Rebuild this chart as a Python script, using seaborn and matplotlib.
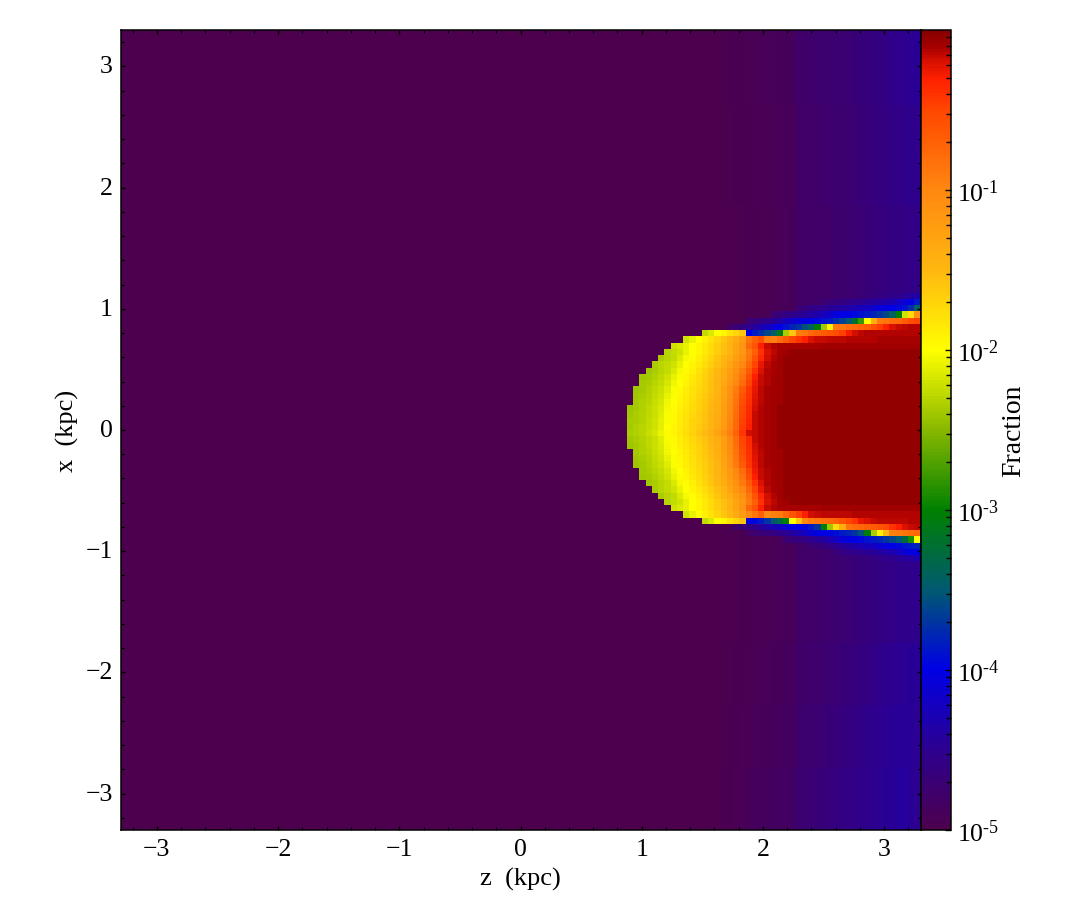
"""
Fraction map in the z-x plane, drawn with seaborn's heatmap.
All row lists hold log10(fraction) read off the picture.
"""

import numpy as np
import matplotlib
matplotlib.use("Agg")
import matplotlib.pyplot as plt
from matplotlib.colors import LinearSegmentedColormap, LogNorm
from matplotlib.ticker import FixedLocator, FuncFormatter, NullFormatter
import seaborn as sns

# ==========================================================
# Data
# ==========================================================

N_CELLS = 128
EXTENT = 3.3
FLOOR = -5.0
CORE = -0.05

MAJOR_TICKS = [-3, -2, -1, 0, 1, 2, 3]
MINOR_TICKS = [round(-3.2 + 0.2 * i, 1) for i in range(33)]
CBAR_TICKS = [1e-5, 1e-4, 1e-3, 1e-2, 1e-1]

CMAP_POS = [0.0, 0.1, 0.2, 0.3, 0.4, 0.5, 0.6, 0.7, 0.8, 0.9, 0.94, 0.9625, 0.98, 1.0]
CMAP_COLORS = ["#4d004d", "#2c0090", "#0000e6", "#005a70", "#008000", "#88b800",
               "#ffff00", "#ffb810", "#ff8810", "#ff4800", "#ff2000", "#d81000",
               "#a80000", "#860000"]

# background, columns 96 to 127
BG_START = 96
bg_top_far = [-4.97, -4.96, -4.95, -4.95, -4.94, -4.93, -4.92, -4.92, -4.91, -4.90, -4.90, -4.88,
              -4.78, -4.77, -4.76, -4.75, -4.74, -4.73, -4.72, -4.71, -4.70, -4.68, -4.66, -4.64,
              -4.62, -4.60, -4.58, -4.55, -4.52, -4.50, -4.48, -4.47]
bg_top_mid = [-4.98, -4.97, -4.96, -4.96, -4.95, -4.94, -4.93, -4.93, -4.92, -4.91, -4.90, -4.89,
              -4.80, -4.79, -4.78, -4.77, -4.76, -4.75, -4.74, -4.73, -4.72, -4.70, -4.68, -4.66,
              -4.64, -4.62, -4.60, -4.58, -4.56, -4.55, -4.54, -4.53]
bg_top_near = [-4.98, -4.98, -4.97, -4.97, -4.96, -4.95, -4.94, -4.94, -4.93, -4.92, -4.91, -4.90,
               -4.82, -4.81, -4.80, -4.79, -4.78, -4.77, -4.76, -4.75, -4.74, -4.72, -4.70, -4.68,
               -4.66, -4.64, -4.62, -4.60, -4.59, -4.58, -4.57, -4.56]
bg_bot_near = [-4.98, -4.97, -4.97, -4.96, -4.95, -4.94, -4.93, -4.93, -4.92, -4.91, -4.90, -4.89,
               -4.80, -4.79, -4.78, -4.77, -4.76, -4.75, -4.74, -4.72, -4.70, -4.68, -4.66, -4.64,
               -4.62, -4.60, -4.58, -4.56, -4.55, -4.54, -4.53, -4.52]
bg_bot_mid = [-4.98, -4.97, -4.96, -4.95, -4.94, -4.93, -4.92, -4.91, -4.90, -4.89, -4.88, -4.87,
              -4.78, -4.77, -4.76, -4.75, -4.73, -4.71, -4.69, -4.67, -4.65, -4.63, -4.61, -4.59,
              -4.57, -4.55, -4.53, -4.51, -4.49, -4.48, -4.47, -4.47]
bg_bot_low = [-4.97, -4.96, -4.95, -4.94, -4.93, -4.92, -4.90, -4.89, -4.88, -4.87, -4.86, -4.85,
              -4.75, -4.74, -4.73, -4.71, -4.69, -4.67, -4.65, -4.63, -4.61, -4.59, -4.57, -4.55,
              -4.53, -4.51, -4.49, -4.47, -4.45, -4.44, -4.46, -4.48]
bg_bot_far = [-4.96, -4.95, -4.94, -4.92, -4.90, -4.88, -4.87, -4.86, -4.85, -4.84, -4.83, -4.82,
              -4.73, -4.72, -4.70, -4.68, -4.66, -4.64, -4.62, -4.60, -4.58, -4.56, -4.54, -4.52,
              -4.50, -4.48, -4.46, -4.44, -4.43, -4.42, -4.46, -4.50]

# sheath above the cap
start_42 = 118
row_42 = [-4.68, -4.65, -4.62, -4.60, -4.58, -4.55, -4.52, -4.48, -4.42, -4.35]
start_43 = 112
row_43 = [-4.70, -4.65, -4.62, -4.60, -4.55, -4.52, -4.50, -4.45, -4.40, -4.38, -4.35, -4.28,
          -4.20, -4.10, -4.02, -3.85]
start_44 = 108
row_44 = [-4.70, -4.65, -4.60, -4.55, -4.50, -4.47, -4.43, -4.40, -4.35, -4.30, -4.25, -4.20,
          -4.15, -4.05, -4.03, -4.00, -3.95, -3.90, -3.75, -3.45]
start_45 = 104
row_45 = [-4.70, -4.65, -4.60, -4.55, -4.50, -4.45, -4.40, -4.32, -4.25, -4.15, -4.05, -4.02,
          -4.00, -3.95, -3.90, -3.85, -3.80, -3.70, -3.60, -3.40, -3.00, -2.20, -1.75, -1.10]
start_46 = 100
row_46 = [-4.70, -4.65, -4.60, -4.55, -4.45, -4.35, -4.25, -4.15, -4.08, -4.03, -4.00, -3.95,
          -3.90, -3.85, -3.75, -3.65, -3.50, -3.20, -2.80, -2.00, -1.40, -0.90, -0.85, -0.80,
          -0.75, -0.65, -0.55, -0.50]
start_47 = 97
row_47 = [-4.80, -4.70, -4.60, -4.50, -4.40, -4.30, -4.20, -4.10, -4.00, -3.90, -3.80, -3.70,
          -3.55, -3.40, -3.00, -2.40, -1.90, -0.90, -0.85, -0.80, -0.75, -0.70, -0.65, -0.55,
          -0.45, -0.30, -0.20, -0.16, -0.14, -0.13, -0.13]

# cap rows, first filled column then values going right
start_48 = 93
row_48 = [-2.25, -2.15, -2.00, -1.95, -1.80, -1.70, -1.60, -4.00, -3.85, -3.75, -3.60, -3.45,
          -3.10, -2.35, -1.60, -0.90, -0.85, -0.75, -0.70, -0.65, -0.60, -0.55, -0.45, -0.28,
          -0.18, -0.14, -0.13, -0.13, -0.13, -0.13, -0.12, -0.12, -0.12, -0.12, -0.12]
start_49 = 90
row_49 = [-2.20, -2.10, -2.00, -1.90, -1.80, -1.70, -1.60, -1.50, -1.35, -1.20, -0.85, -0.70,
          -0.55, -0.90, -0.95, -0.80, -0.65, -0.50, -0.40, -0.30, -0.20, -0.17, -0.16, -0.15,
          -0.14, -0.14, -0.13, -0.13, -0.12, -0.12, -0.12, -0.11, -0.11, -0.11, -0.10, -0.10,
          -0.10, -0.10]
start_50 = 88
row_50 = [-2.20, -2.15, -2.10, -2.00, -1.95, -1.85, -1.75, -1.65, -1.55, -1.45, -1.30, -1.15,
          -0.75, -0.60, -0.30, -0.17, -0.13, -0.11, -0.10, -0.10, -0.10, -0.10, -0.10, -0.10,
          -0.09, -0.09, -0.09, -0.09, -0.09, -0.09, -0.09, -0.09, -0.08, -0.08, -0.08, -0.08,
          -0.08, -0.08, -0.08, -0.08]
start_51 = 87
row_51 = [-2.30, -2.25, -2.20, -2.10, -2.00, -1.95, -1.85, -1.75, -1.65, -1.55, -1.45, -1.30,
          -1.15, -0.90, -0.70, -0.40, -0.20, -0.14, -0.11, -0.08]
start_52 = 86
row_52 = [-2.35, -2.30, -2.25, -2.15, -2.05, -1.98, -1.90, -1.80, -1.70, -1.60, -1.50, -1.40,
          -1.25, -1.10, -0.85, -0.60, -0.35, -0.18, -0.12, -0.09]
start_53 = 85
row_53 = [-2.35, -2.30, -2.25, -2.20, -2.10, -2.00, -1.92, -1.85, -1.75, -1.65, -1.55, -1.45,
          -1.30, -1.15, -1.00, -0.75, -0.50, -0.25, -0.15, -0.11, -0.08]
start_54 = 84
row_54 = [-2.40, -2.35, -2.30, -2.25, -2.15, -2.05, -1.98, -1.90, -1.80, -1.70, -1.60, -1.50,
          -1.38, -1.25, -1.10, -0.90, -0.65, -0.40, -0.20, -0.13, -0.10, -0.08]
start_55 = 83
row_55 = [-2.40, -2.38, -2.33, -2.28, -2.20, -2.10, -2.02, -1.95, -1.85, -1.77, -1.67, -1.57,
          -1.47, -1.35, -1.20, -1.05, -0.85, -0.55, -0.30, -0.17, -0.12, -0.09, -0.08]
start_56 = 83
row_56 = [-2.38, -2.35, -2.30, -2.25, -2.17, -2.07, -2.00, -1.92, -1.83, -1.75, -1.65, -1.55,
          -1.45, -1.32, -1.18, -1.00, -0.80, -0.50, -0.27, -0.16, -0.12, -0.09, -0.08]
start_57 = 82
row_57 = [-2.42, -2.38, -2.33, -2.28, -2.22, -2.13, -2.03, -1.97, -1.88, -1.80, -1.72, -1.66,
          -1.56, -1.45, -1.30, -1.12, -0.90, -0.65, -0.42, -0.25, -0.15, -0.11, -0.09, -0.08]
start_58 = 82
row_58 = [-2.40, -2.36, -2.32, -2.26, -2.20, -2.10, -2.02, -1.95, -1.86, -1.78, -1.70, -1.64,
          -1.54, -1.43, -1.27, -1.08, -0.87, -0.60, -0.40, -0.22, -0.15, -0.11, -0.09, -0.08]
start_59 = 82
row_59 = [-2.38, -2.34, -2.30, -2.24, -2.17, -2.07, -2.00, -1.93, -1.84, -1.76, -1.68, -1.62,
          -1.52, -1.41, -1.25, -1.06, -0.84, -0.55, -0.38, -0.20, -0.14, -0.10, -0.09, -0.08]
start_60 = 81
row_60 = [-2.42, -2.38, -2.33, -2.28, -2.22, -2.15, -2.05, -1.98, -1.90, -1.82, -1.74, -1.68,
          -1.60, -1.50, -1.39, -1.23, -1.04, -0.82, -0.52, -0.36, -0.18, -0.13, -0.10, -0.08]
start_61 = 81
row_61 = [-2.40, -2.36, -2.32, -2.27, -2.21, -2.13, -2.03, -1.97, -1.88, -1.80, -1.72, -1.66,
          -1.58, -1.48, -1.37, -1.22, -1.03, -0.80, -0.50, -0.35, -0.17, -0.13, -0.10, -0.08]
start_62 = 81
row_62 = [-2.38, -2.35, -2.31, -2.26, -2.20, -2.12, -2.02, -1.96, -1.87, -1.79, -1.71, -1.65,
          -1.57, -1.47, -1.36, -1.20, -1.01, -0.78, -0.48, -0.33, -0.17, -0.13, -0.10, -0.08]
start_63 = 81
row_63 = [-2.38, -2.34, -2.30, -2.25, -2.19, -2.11, -2.01, -1.95, -1.86, -1.78, -1.70, -1.64,
          -1.56, -1.46, -1.34, -1.18, -0.98, -0.76, -0.46, -0.30, -0.16, -0.12, -0.10, -0.08]
start_64 = 81
row_64 = [-2.36, -2.33, -2.29, -2.24, -2.17, -2.08, -1.99, -1.93, -1.84, -1.76, -1.68, -1.60,
          -1.52, -1.42, -1.28, -1.12, -0.95, -0.72, -0.42, -0.18, -0.16, -0.12, -0.10, -0.08]

# lower edge of the cap and sheath below it
start_77 = 90
row_77 = [-2.20, -2.10, -2.00, -1.90, -1.80, -1.70, -1.60, -1.50, -1.35, -1.20, -1.00, -0.85,
          -0.70, -1.00, -0.95, -0.90, -0.75, -0.60, -0.45, -0.30, -0.18, -0.16, -0.15, -0.15,
          -0.14, -0.14, -0.14, -0.13, -0.13, -0.13, -0.13, -0.12, -0.12, -0.12, -0.12, -0.12,
          -0.12, -0.12]
start_78 = 93
row_78 = [-2.25, -2.15, -2.00, -1.95, -1.80, -1.70, -1.60, -4.00, -3.95, -3.85, -3.70, -3.50,
          -3.30, -3.00, -2.00, -1.60, -1.00, -0.90, -0.85, -0.80, -0.75, -0.70, -0.60, -0.50,
          -0.40, -0.25, -0.20, -0.17, -0.15, -0.15, -0.15, -0.14, -0.14, -0.13, -0.13]
start_79 = 98
row_79 = [-4.75, -4.68, -4.60, -4.52, -4.45, -4.35, -4.28, -4.20, -4.10, -4.02, -4.00, -3.95,
          -3.85, -3.70, -3.00, -2.40, -1.75, -1.40, -0.85, -0.80, -0.75, -0.70, -0.65, -0.60,
          -0.55, -0.40, -0.30, -0.20, -0.17, -0.15]
start_80 = 100
row_80 = [-4.80, -4.75, -4.70, -4.65, -4.60, -4.55, -4.48, -4.40, -4.30, -4.20, -4.10, -4.03,
          -4.00, -3.98, -3.92, -3.85, -3.80, -3.70, -3.55, -3.05, -2.35, -1.90, -1.50, -0.95,
          -0.90, -0.85, -0.80, -0.75]
start_81 = 106
row_81 = [-4.72, -4.68, -4.64, -4.60, -4.55, -4.47, -4.40, -4.30, -4.20, -4.10, -4.03, -4.00,
          -3.95, -3.90, -3.85, -3.80, -3.70, -3.60, -3.50, -3.30, -2.90, -2.00]
start_82 = 110
row_82 = [-4.72, -4.68, -4.64, -4.58, -4.52, -4.45, -4.40, -4.35, -4.30, -4.25, -4.20, -4.12,
          -4.05, -4.00, -3.95, -3.90, -3.85, -3.80]
start_83 = 114
row_83 = [-4.65, -4.60, -4.56, -4.52, -4.50, -4.47, -4.45, -4.40, -4.35, -4.30, -4.20, -4.10,
          -4.03, -4.00]
start_84 = 120
row_84 = [-4.58, -4.55, -4.52, -4.50, -4.45, -4.42, -4.38, -4.30]


# ==========================================================
# Build the grid
# ==========================================================

def put_row(grid, row, start, values, pad=None):
    grid[row, start:start + len(values)] = values
    if pad is not None:
        grid[row, start + len(values):] = pad


def build_grid():
    grid = np.full((N_CELLS, N_CELLS), FLOOR)

    bands = [(0, 12, bg_top_far), (12, 28, bg_top_mid), (28, 48, bg_top_near),
             (79, 98, bg_bot_near), (98, 108, bg_bot_mid), (108, 118, bg_bot_low),
             (118, 128, bg_bot_far)]
    for first, last, band in bands:
        grid[first:last, BG_START:] = band

    put_row(grid, 42, start_42, row_42)
    put_row(grid, 43, start_43, row_43)
    put_row(grid, 44, start_44, row_44)
    put_row(grid, 45, start_45, row_45)
    put_row(grid, 46, start_46, row_46)
    put_row(grid, 47, start_47, row_47)
    put_row(grid, 79, start_79, row_79)
    put_row(grid, 80, start_80, row_80)
    put_row(grid, 81, start_81, row_81)
    put_row(grid, 82, start_82, row_82)
    put_row(grid, 83, start_83, row_83)
    put_row(grid, 84, start_84, row_84)

    put_row(grid, 48, start_48, row_48, CORE)
    put_row(grid, 49, start_49, row_49, CORE)
    put_row(grid, 64, start_64, row_64, CORE)
    put_row(grid, 77, start_77, row_77, CORE)
    put_row(grid, 78, start_78, row_78, CORE)

    # the cap is the same above and below row 63
    cap_rows = [(50, start_50, row_50), (51, start_51, row_51), (52, start_52, row_52),
                (53, start_53, row_53), (54, start_54, row_54), (55, start_55, row_55),
                (56, start_56, row_56), (57, start_57, row_57), (58, start_58, row_58),
                (59, start_59, row_59), (60, start_60, row_60), (61, start_61, row_61),
                (62, start_62, row_62), (63, start_63, row_63)]
    for row, start, values in cap_rows:
        put_row(grid, row, start, values, CORE)
        if row != 62 and row != 63:
            put_row(grid, 126 - row, start, values, CORE)
    put_row(grid, 65, start_61, row_61, CORE)

    return 10.0 ** grid


# ==========================================================
# Plot
# ==========================================================

def col_pos(kpc):
    return (kpc + EXTENT) / (2 * EXTENT) * N_CELLS


def row_pos(kpc):
    return (EXTENT - kpc) / (2 * EXTENT) * N_CELLS


def cbar_label(value, pos):
    return "10$^{\\mathregular{\u2010" + str(int(round(-np.log10(value)))) + "}}$"


def main():
    sns.set_style("white")
    plt.rcParams["font.family"] = ["Liberation Serif", "DejaVu Serif"]
    plt.rcParams["mathtext.fontset"] = "custom"
    plt.rcParams["mathtext.rm"] = "Liberation Serif"
    plt.rcParams["mathtext.default"] = "regular"
    plt.rcParams["text.color"] = "black"
    plt.rcParams["axes.labelcolor"] = "black"
    plt.rcParams["xtick.color"] = "black"
    plt.rcParams["ytick.color"] = "black"

    cmap = LinearSegmentedColormap.from_list("fraction", list(zip(CMAP_POS, CMAP_COLORS)), N=256)

    fig = plt.figure(figsize=(10.85, 9.2), dpi=100)
    ax = fig.add_axes([120.5 / 1085, 89 / 920, 800 / 1085, 800 / 920])
    cax = fig.add_axes([920.5 / 1085, 89 / 920, 30 / 1085, 800 / 920])

    sns.heatmap(build_grid(), ax=ax, cbar_ax=cax, cmap=cmap,
                norm=LogNorm(vmin=1e-5, vmax=1.0),
                xticklabels=False, yticklabels=False)

    for spine in ax.spines.values():
        spine.set_visible(True)
        spine.set_linewidth(1.1)
        spine.set_color("black")

    ax.set_axisbelow(False)
    ax.set_xticks([col_pos(v) for v in MAJOR_TICKS])
    ax.set_xticklabels(["\u2212" + str(-v) if v < 0 else str(v) for v in MAJOR_TICKS])
    ax.set_yticks([row_pos(v) for v in MAJOR_TICKS])
    ax.set_yticklabels(["\u2212" + str(-v) if v < 0 else str(v) for v in MAJOR_TICKS],
                       rotation=0, va="center")
    ax.set_xticks([col_pos(v) for v in MINOR_TICKS], minor=True)
    ax.set_yticks([row_pos(v) for v in MINOR_TICKS], minor=True)
    ax.tick_params(which="major", direction="in", length=3.0, width=1.0, top=True, right=True,
                   bottom=True, left=True, labelsize=18.5, pad=5.5, color="black")
    ax.tick_params(which="minor", direction="in", length=2.0, width=0.8, top=True, right=True,
                   bottom=True, left=True, color="black")

    ax.set_xlabel("z  (kpc)", fontsize=19, labelpad=5)
    ax.set_ylabel("x  (kpc)", fontsize=19, labelpad=5)

    cb = ax.collections[0].colorbar
    cb.outline.set_visible(True)
    cb.outline.set_linewidth(1.1)
    cb.outline.set_edgecolor("black")
    cax.set_axisbelow(False)
    cax.yaxis.set_major_locator(FixedLocator(CBAR_TICKS))
    cax.yaxis.set_major_formatter(FuncFormatter(cbar_label))
    minor = [m * 10.0 ** e for e in range(-5, 0) for m in range(2, 10)]
    cax.yaxis.set_minor_locator(FixedLocator(minor))
    cax.yaxis.set_minor_formatter(NullFormatter())
    cax.tick_params(which="major", direction="in", length=4.0, width=1.0, right=True, left=False,
                    labelsize=18.5, pad=5, color="black")
    cax.tick_params(which="minor", direction="in", length=3.5, width=1.0, right=True, left=False,
                    color="black")
    cb.set_label("Fraction", fontsize=20, labelpad=1)

    fig.savefig("out.png", dpi=100)
    plt.close(fig)


if __name__ == "__main__":
    main()
